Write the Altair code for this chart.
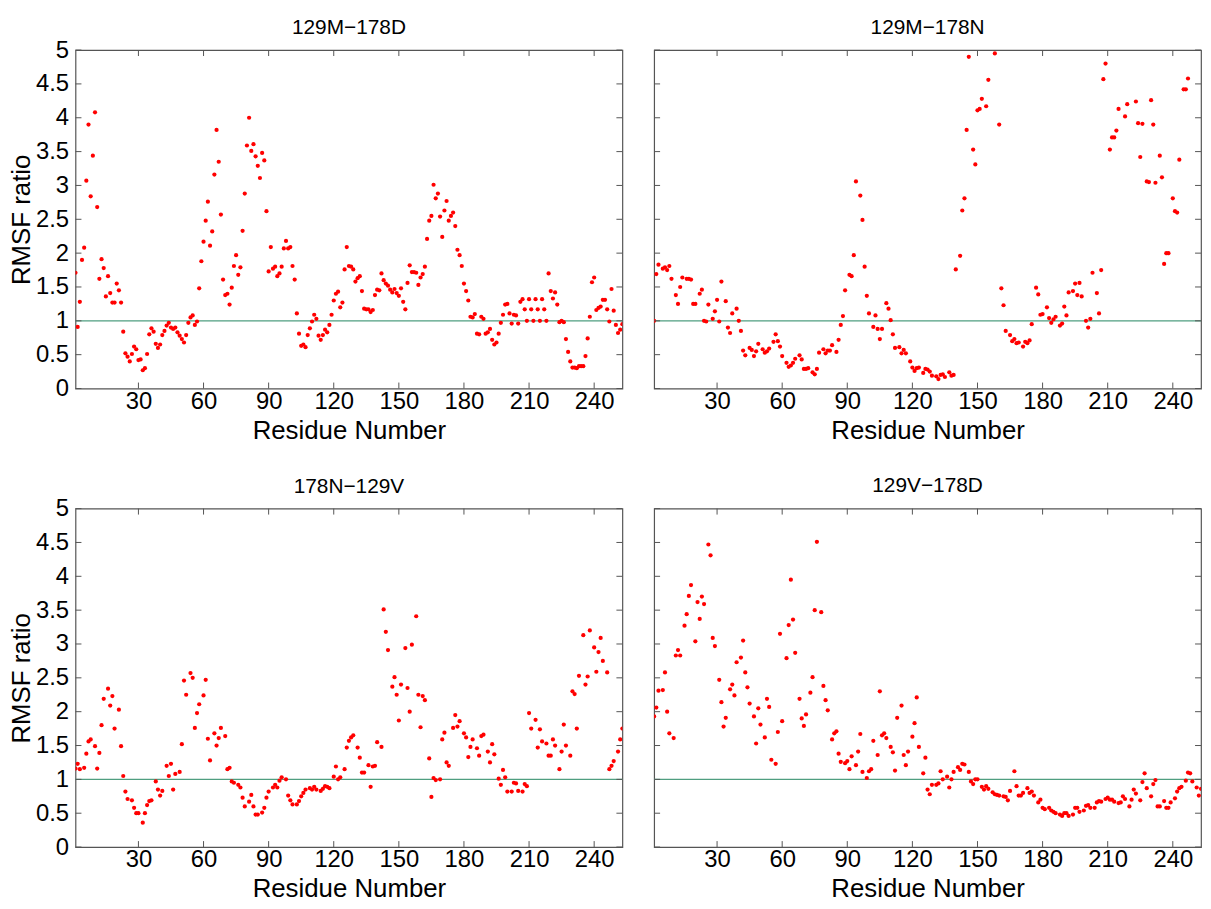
import altair as alt
import numpy as np
import pandas as pd

# ---------------- data ----------------
titles = ["129M\u2212178D", "129M\u2212178N", "178N\u2212129V", "129V\u2212178D"]

p1_ratio = [
    1.71, 0.91, 1.28, 1.90, 2.08, 3.07, 3.90, 2.84, 3.44, 4.08,
    2.68, 1.62, 1.91, 1.78, 1.36, 1.66, 1.41, 1.27, 1.27, 1.55,
    1.45, 1.27, 0.84, 0.52, 0.47, 0.40, 0.51, 0.62, 0.58, 0.42,
    0.43, 0.27, 0.30, 0.51, 0.80, 0.89, 0.84, 0.66, 0.60, 0.65,
    0.79, 0.85, 0.93, 0.97, 0.90, 0.88, 0.90, 0.83, 0.78, 0.73,
    0.68, 0.79, 0.97, 1.05, 1.08, 0.94, 0.99, 1.48, 1.88, 2.17,
    2.48, 2.76, 2.11, 2.32, 3.16, 3.82, 3.35, 2.57, 1.61, 1.38,
    1.40, 1.24, 1.49, 1.81, 1.97, 1.68, 1.79, 2.33, 2.88, 3.59,
    4.00, 3.51, 3.61, 3.43, 3.29, 3.11, 3.48, 3.37, 2.62, 1.73,
    2.09, 1.77, 1.80, 1.66, 1.70, 1.80, 2.07, 2.18, 2.07, 2.09,
    1.81, 1.61, 1.11, 0.81, 0.63, 0.65, 0.61, 0.79, 0.89, 0.99,
    1.09, 1.03, 0.78, 0.72, 0.79, 0.87, 0.83, 0.94, 1.09, 1.30,
    1.40, 1.43, 1.20, 1.27, 1.76, 2.09,
    1.81, 1.80, 1.76, 1.58, 1.63, 1.66, 1.44, 1.18, 1.17, 1.17,
    1.13, 1.16, 1.38, 1.46, 1.45, 1.70, 1.60, 1.55, 1.52, 1.46,
    1.42, 1.47, 1.41, 1.37, 1.48, 1.28, 1.17, 1.56, 1.82, 1.72,
    1.72, 1.71, 1.53, 1.64, 1.69, 1.80, 2.21, 2.48, 2.55, 3.01,
    2.81, 2.88, 2.54, 2.24, 2.63, 2.77, 2.48, 2.55, 2.60, 2.40,
    2.05, 1.97, 1.81, 1.55, 1.44, 1.30, 1.06, 1.05, 1.10, 0.81,
    0.80, 1.06, 1.03, 0.81, 0.83, 0.88, 0.72, 0.65, 0.68, 0.81,
    0.97, 1.09, 1.24, 1.25, 1.11, 0.96, 1.09, 1.08, 0.96, 1.28,
    1.32, 1.17, 1.00, 1.32, 1.17, 1.00, 1.32, 1.17, 1.00, 1.32,
    1.17, 1.00, 1.70, 1.44, 1.33, 1.42, 1.24, 0.98, 1.00, 0.98,
    0.73, 0.54, 0.40, 0.31, 0.31, 0.30, 0.33, 0.33, 0.33, 0.48,
    0.74, 1.06, 1.57, 1.64, 1.16, 1.19, 1.21, 1.31, 1.31, 1.17,
    0.99, 1.47, 1.15, 0.94, 0.82, 0.87, 0.95,
]

# None = point above the axis limit (not visible)
p2_ratio = [
    1.00, 1.69, 1.83, 1.77, 1.79, 1.75, 1.81, 1.62, 1.38, 1.25,
    1.50, 1.64, 1.62, 1.62, 1.61, 1.25, 1.25, 1.40, 1.46, 1.00,
    0.99, 1.24, 1.03, 1.14, 1.31, 0.99, 1.58, 1.29, 0.90, 0.82,
    1.11, 1.18, 1.00, 0.85, 0.56, 0.49, 0.60, 0.57, 0.48, 0.55,
    0.66, 0.58, 0.53, 0.55, 0.59, 0.69, 0.80, 0.70, 0.62, 0.48,
    0.38, 0.32, 0.34, 0.38, 0.44, 0.49, 0.43, 0.29, 0.29, 0.30,
    0.24, 0.21, 0.29, 0.53, 0.58, 0.52, 0.56, 0.56, 0.64, 0.54,
    0.72, 0.94, 1.07, 1.45, 1.68, 1.66, 1.97, 3.06, 2.85, 2.49,
    1.80, 1.37, 1.11, 0.91, 1.08, 0.88, 0.73, 0.88, 1.26, 1.18,
    1.01, 0.80, 0.60, 0.61, 0.52, 0.57, 0.52, 0.40, 0.31, 0.26,
    0.30, 0.31, 0.23,
    0.29, 0.28, 0.25, 0.19, 0.18, 0.14, 0.20, 0.21, 0.17, 0.24, 0.19, 0.20,
    1.76, 1.96, 2.63, 2.81, 3.82, 4.90, 3.53, 3.31, 4.11, 4.13, 4.28, 4.17, 4.56,
    None, None, 4.95, 3.90,
    1.48, 1.23, 0.85, 0.79, 0.70, 0.73, 0.67, 0.68, 0.62, 0.69, 0.67, 0.71, 0.95,
    1.49, 1.39, 1.09, 1.10, 1.20, 1.04, 0.97, 1.02, 1.06, 0.93, 0.96, 1.21, 1.08,
    1.42, 1.44, 1.55, 1.38, 1.56, 1.36, 1.00, 0.90, 1.03, 1.71, 1.41, 1.11, 1.75,
    4.57, 4.80, 3.53, 3.71, 3.71, 3.81, 4.13, None, 4.02, 4.20,
    None, None, 4.24, 3.92, 3.42, 3.91, 3.06, 3.05, 4.26, 3.90,
    3.04, 3.44, 3.12, 1.84, 2.00, 2.00, 2.81, 2.62, 2.60, 3.38,
    4.42, 4.42, 4.58, None, None, None, None, None,
]

p3_ratio = [
    1.16, 1.23, 1.15, 1.17, 1.38, 1.56, 1.59, 1.49, 1.16, 1.39,
    1.80, 2.19, 2.34, 2.09, 2.23, 1.75, 2.03, 1.49, 1.05, 0.82,
    0.71, 0.69, 0.58, 0.50, 0.50, 0.36, 0.50, 0.62, 0.68, 0.69,
    0.97, 0.85, 0.76, 0.83, 1.20, 1.05, 1.23, 0.85, 1.08, 1.11,
    1.52, 2.46, 2.25, 2.57, 2.50, 1.76, 1.98, 2.11, 2.24, 2.47,
    1.60, 1.28, 1.68, 1.50, 1.61, 1.76, 1.64, 1.15, 1.17, 0.97,
    0.95, 0.92, 0.88, 0.73, 0.60, 0.67, 0.77, 0.60, 0.48, 0.48,
    0.51, 0.58, 0.73, 0.82, 0.88, 0.92, 0.88, 0.98, 1.03, 1.00,
    0.76, 0.69, 0.63, 0.63, 0.68, 0.75, 0.80, 0.85, 0.87, 0.85,
    0.89, 0.85, 0.83, 0.86, 0.90, 0.89, 0.87, 1.04, 1.19, 1.00,
    1.03, 1.15, 1.47, 1.57,
    1.62, 1.65, 1.47, 1.32, 1.10, 1.10, 1.21, 0.89, 1.19, 1.20,
    1.55, 1.48, 3.51, 3.18, 2.91, 2.37, 2.51, 2.25, 1.87, 2.40,
    2.94, 2.35, 2.00, 2.99, 3.41, 2.25, 1.77, 2.23, 2.17, 1.31,
    0.74, 1.02, 0.99, 1.00, 1.59, 1.69, 1.25, 1.20, 1.76, 1.95,
    1.78, 1.86, 1.68, 1.62, 1.33, 1.48, 1.59, 1.46, 1.35, 1.64,
    1.66, 1.41, 1.25, 1.52, 1.37, 1.01, 0.92, 1.14, 1.03, 0.82,
    0.82, 0.95, 0.94, 0.83, 0.82, 0.93, 0.90, 1.98, 1.75, 1.88,
    1.47, 1.74, 1.56, 1.53, 1.35, 1.35, 1.59, 1.50, 1.15, 1.41,
    1.81, 1.50, 1.35, 2.30, 2.26, 1.75, 2.53, 3.13, 2.40, 2.52,
    3.20, 2.95, 2.59, 2.88, 3.09, 2.75, 2.58, 1.15, 1.20, 1.27,
    1.41, 1.59, 1.75,
]

p4_ratio = [
    1.93, 2.06, 2.31, 2.32, 2.58, 2.00, 1.68, 1.61, 2.83, 2.91,
    2.83, 3.27, 3.44, 3.71, 3.87, 3.04, 3.62, 3.37, 3.70, 3.59,
    4.47, 4.31, 3.09, 2.97, 2.47, 2.14, 1.78, 1.91, 2.33, 2.40,
    2.24, 2.73, 2.80, 3.05, 2.58, 2.36, 2.12, 1.93, 1.53, 2.05,
    1.81, 1.62, 2.19, 2.07, 1.29, 1.23, 1.70, 3.15, 1.86, 2.79,
    3.28, 3.95, 3.36, 2.87, 2.19, 1.90, 1.79, 1.96, 2.28, 2.51,
    3.50, 4.51, 3.47, 2.38, 2.17, 2.02, 1.59, 1.68, 1.71, 1.38,
    1.26, 1.24, 1.27, 1.15, 1.34, 1.21, 1.41, 1.67, 1.11, 1.02,
    1.12, 1.15, 1.57, 1.36, 2.30, 1.65, 1.68, 1.61, 1.48, 1.40,
    1.13, 1.91, 2.09, 1.36, 1.21, 1.41, 1.63, 1.83, 2.21, 1.48,
    1.09,
    1.32, 0.85, 0.78, 0.92, 0.92, 0.94, 1.12, 1.00, 1.04, 0.88,
    1.00, 1.11, 1.18, 1.14, 1.23, 1.22, 1.11, 0.97, 0.93, 1.00,
    1.00, 0.89, 0.85, 0.90, 0.86, 0.81, 0.78, 0.77, 0.76, 0.75,
    0.74, 0.69, 0.83, 1.12, 0.90, 0.76, 0.76, 0.80, 0.87, 0.80,
    0.82, 0.76, 0.66, 0.70, 0.58, 0.56, 0.58, 0.54, 0.52, 0.50,
    0.48, 0.46, 0.50, 0.50, 0.46, 0.48, 0.58, 0.58, 0.52, 0.54,
    0.61, 0.62, 0.58, 0.58, 0.66, 0.68, 0.67, 0.71, 0.73, 0.70,
    0.70, 0.67, 0.65, 0.66, 0.75, 0.71, 0.60, 0.70, 0.85, 0.79,
    0.69, 0.96, 1.09, 0.87, 0.75, 0.93, 0.99, 0.60, 0.60, 0.68,
    0.58, 0.58, 0.66, 0.72, 0.82, 0.87, 0.89, 0.98, 1.10, 1.09,
    0.97, 0.88, 0.76, 0.86,
]

residue_range = [1, 253]
x_tick_values = [30, 60, 90, 120, 150, 180, 210, 240]
y_tick_values = [0, 0.5, 1, 1.5, 2, 2.5, 3, 3.5, 4, 4.5, 5]
reference_level = [1.0]

# ---------------- styling ----------------
W, H = 551, 341
FONT = "Liberation Sans"
RED = "#ff0000"
REF_COLOR = "#4f9e80"
BOX = "#555555"
TICK_LEN = 6
LABEL_FS = 24
TITLE_FS = 26
HEAD_FS = 21


def make_panel(values, title, show_y):
    n = len(values)
    residues = np.round(np.linspace(residue_range[0], residue_range[1], n)).astype(int)
    df = pd.DataFrame({"residue": residues, "ratio": values}).dropna()

    xs = alt.Scale(domain=residue_range, nice=False, zero=False)
    ys = alt.Scale(domain=[0, 5], nice=False)

    xaxis = alt.Axis(
        values=x_tick_values, title="Residue Number", ticks=False, tickSize=0,
        domain=False, grid=False, labelFontSize=LABEL_FS, titleFontSize=TITLE_FS,
        labelPadding=1, titlePadding=4, labelFont=FONT, titleFont=FONT,
        titleFontWeight="normal", labelColor="black", titleColor="black",
        labelFlush=False, labelOverlap=False,
    )
    if show_y:
        yaxis = alt.Axis(
            values=y_tick_values, format="~g", title="RMSF ratio", ticks=False,
            tickSize=0, domain=False, grid=False, labelFontSize=LABEL_FS,
            titleFontSize=TITLE_FS, labelPadding=7, titlePadding=1, labelFont=FONT,
            titleFont=FONT, titleFontWeight="normal", labelColor="black",
            titleColor="black", labelOverlap=False,
        )
        head_offset = 0
    else:
        yaxis = None
        head_offset = 12

    points = alt.Chart(df).mark_circle(size=18, color=RED, opacity=1, clip=True).encode(
        x=alt.X("residue:Q", scale=xs, axis=xaxis),
        y=alt.Y("ratio:Q", scale=ys, axis=yaxis),
    )
    ref = alt.Chart(pd.DataFrame({"level": reference_level})).mark_rule(
        color=REF_COLOR, strokeWidth=1.3
    ).encode(y=alt.Y("level:Q", scale=ys, axis=yaxis))

    xt = pd.DataFrame({"t": x_tick_values})
    yt = pd.DataFrame({"t": y_tick_values})
    xtick_bottom = alt.Chart(xt).mark_rule(color=BOX, strokeWidth=1).encode(
        x=alt.X("t:Q", scale=xs, axis=xaxis), y=alt.value(H), y2=alt.value(H - TICK_LEN))
    xtick_top = alt.Chart(xt).mark_rule(color=BOX, strokeWidth=1).encode(
        x=alt.X("t:Q", scale=xs, axis=xaxis), y=alt.value(0), y2=alt.value(TICK_LEN))
    ytick_left = alt.Chart(yt).mark_rule(color=BOX, strokeWidth=1).encode(
        y=alt.Y("t:Q", scale=ys, axis=yaxis), x=alt.value(0), x2=alt.value(TICK_LEN))
    ytick_right = alt.Chart(yt).mark_rule(color=BOX, strokeWidth=1).encode(
        y=alt.Y("t:Q", scale=ys, axis=yaxis), x=alt.value(W), x2=alt.value(W - TICK_LEN))

    return alt.layer(ref, points, xtick_bottom, xtick_top, ytick_left, ytick_right).properties(
        width=W, height=H,
        title=alt.TitleParams(
            text=title, fontSize=HEAD_FS, font=FONT, fontWeight="normal", color="black",
            anchor="middle", frame="group", offset=head_offset,
        ),
    )


p1 = make_panel(p1_ratio, titles[0], True)
p2 = make_panel(p2_ratio, titles[1], False)
p3 = make_panel(p3_ratio, titles[2], True)
p4 = make_panel(p4_ratio, titles[3], False)

top = alt.hconcat(p1, p2, spacing=28)
bottom = alt.hconcat(p3, p4, spacing=28)
chart = alt.vconcat(top, bottom, spacing=30).properties(
    padding={"left": 0, "top": 4, "right": 0, "bottom": 0},
    background="white",
).configure_view(stroke=BOX, strokeWidth=1.2)

chart.save("out.html", embed_options={"renderer": "svg", "actions": False})
